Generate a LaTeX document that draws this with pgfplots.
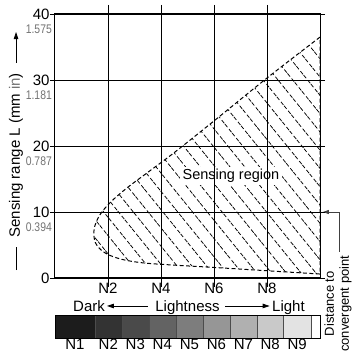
\documentclass[border=0pt]{standalone}
\usepackage{fontspec}
\setmainfont{Liberation Sans}
\usepackage{graphicx}
\usepackage{xcolor}
\usepackage{pgfplots}
\pgfplotsset{compat=1.18}
\usetikzlibrary{patterns.meta,arrows.meta}
\newcommand{\mf}{\fontsize{15}{15}\selectfont}
\newcommand{\inch}[1]{\textcolor{black!55}{\fontsize{12.5}{12.5}\selectfont\scalebox{0.83}[1]{#1}}}
\begin{document}
\begin{tikzpicture}
\begin{axis}[
 name=main,
 width=265pt, height=264pt, scale only axis,
 xmin=0,xmax=10,ymin=0,ymax=40,
 xtick={2,4,6,8}, xticklabels={N2,N4,N6,N8},
 ytick={0,10,20,30,40}, yticklabels={0,10,20,30,40},
 grid=major, grid style={black, line width=0.9pt},
 axis line style={black, line width=1pt},
 tick align=outside,
 xtick style={black, line width=0.9pt, /pgfplots/major tick length=9pt},
 ytick style={black, line width=0.9pt, /pgfplots/major tick length=5pt},
 ticklabel style={font=\mf},
 xticklabel style={inner sep=1pt},
 yticklabel style={inner sep=1pt},
 clip=false,
 axis on top,
]
\addplot[black, line width=1pt, dash pattern=on 4pt off 2.5pt, smooth, tension=0.55,
  pattern={Lines[angle=-51,distance=11.5pt,line width=0.75pt]}] coordinates {
 (10,36.5) (8,30.3) (6,23.8) (4.5,19) (3.5,16) (2.7,13.6) (2.1,11.5) (1.7,9.6)
 (1.48,7.5) (1.52,5.4) (1.85,3.9) (2.45,2.9) (3.3,2.3) (4.5,1.95) (6,1.6) (8,1.1) (10,0.6)
} -- cycle;

\node[fill=white, inner sep=2.5pt, font=\fontsize{14.5}{14.5}\selectfont] at (axis cs:6.64,15.45) {Sensing region};

% inch labels
\node[anchor=east, inner sep=0pt] at ([xshift=-3pt,yshift=-15pt]axis cs:0,40) {\inch{1.575}};
\node[anchor=east, inner sep=0pt] at ([xshift=-3pt,yshift=-15pt]axis cs:0,30) {\inch{1.181}};
\node[anchor=east, inner sep=0pt] at ([xshift=-3pt,yshift=-15pt]axis cs:0,20) {\inch{0.787}};
\node[anchor=east, inner sep=0pt] at ([xshift=-3pt,yshift=-15pt]axis cs:0,10) {\inch{0.394}};

% y label
\node[rotate=90, font=\mf, inner sep=0pt] at (axis cs:-1.47,18.6) {Sensing range L (mm \textcolor{black!55}{in})};
\draw[line width=0.8pt, -{Triangle[length=7pt,width=4.5pt]}] (axis cs:-1.47,32.58) -- (axis cs:-1.47,37.27);
\draw[line width=0.8pt] (axis cs:-1.47,1.2) -- (axis cs:-1.47,4.7);

% Dark / Lightness / Light
\node[anchor=base east, font=\mf, inner sep=0pt] at (axis cs:1.89,-5.0) {Dark};
\draw[line width=0.8pt, {Triangle[length=7pt,width=4.5pt]}-] (axis cs:1.96,-4.24) -- (axis cs:3.51,-4.24);
\node[anchor=base, font=\mf, inner sep=0pt] at (axis cs:5.0,-5.0) {Lightness};
\draw[line width=0.8pt, -{Triangle[length=7pt,width=4.5pt]}] (axis cs:6.42,-4.24) -- (axis cs:8.1,-4.24);
\node[anchor=base west, font=\mf, inner sep=0pt] at (axis cs:8.19,-5.0) {Light};

% convergent point
\draw[line width=0.8pt, black!75, -{Triangle[length=6pt,width=4pt]}] (axis cs:10.75,3.94) -- (axis cs:10.75,10) -- (axis cs:10.11,10);
\node[rotate=90, align=center, font=\fontsize{13}{15}\selectfont, inner sep=0pt] at (axis cs:10.68,-3.9) {Distance to\\convergent point};
\end{axis}

\begin{axis}[
 at={(main.south west)}, anchor=north west, yshift=-37pt,
 width=265pt, height=23pt, scale only axis,
 xmin=0,xmax=10,ymin=0,ymax=1,
 xtick={0.75,2.01,3.03,4.05,5.07,6.09,7.11,8.12,9.14},
 xticklabels={N1,N2,N3,N4,N5,N6,N7,N8,N9},
 major tick length=0pt, ytick=\empty,
 ticklabel style={font=\mf, inner sep=1pt},
 axis line style={black,line width=0.9pt},
 axis on top,
]
\addplot[fill=black!89, draw=black!70, line width=0.5pt] coordinates {(0,0)(1.5,0)(1.5,1)(0,1)} --cycle;
\addplot[fill=black!80, draw=black!70, line width=0.5pt] coordinates {(1.5,0)(2.52,0)(2.52,1)(1.5,1)} --cycle;
\addplot[fill=black!71, draw=black!70, line width=0.5pt] coordinates {(2.52,0)(3.54,0)(3.54,1)(2.52,1)} --cycle;
\addplot[fill=black!61, draw=black!70, line width=0.5pt] coordinates {(3.54,0)(4.56,0)(4.56,1)(3.54,1)} --cycle;
\addplot[fill=black!51, draw=black!70, line width=0.5pt] coordinates {(4.56,0)(5.58,0)(5.58,1)(4.56,1)} --cycle;
\addplot[fill=black!41, draw=black!70, line width=0.5pt] coordinates {(5.58,0)(6.6,0)(6.6,1)(5.58,1)} --cycle;
\addplot[fill=black!31, draw=black!70, line width=0.5pt] coordinates {(6.6,0)(7.62,0)(7.62,1)(6.6,1)} --cycle;
\addplot[fill=black!21, draw=black!70, line width=0.5pt] coordinates {(7.62,0)(8.62,0)(8.62,1)(7.62,1)} --cycle;
\addplot[fill=black!11, draw=black!70, line width=0.5pt] coordinates {(8.62,0)(9.66,0)(9.66,1)(8.62,1)} --cycle;
\addplot[fill=white, draw=black!70, line width=0.5pt] coordinates {(9.66,0)(10,0)(10,1)(9.66,1)} --cycle;
\end{axis}

\pgfresetboundingbox
\path ([xshift=-55pt,yshift=-80pt]main.south west) rectangle ([xshift=298pt,yshift=278pt]main.south west);
\end{tikzpicture}
\end{document}
